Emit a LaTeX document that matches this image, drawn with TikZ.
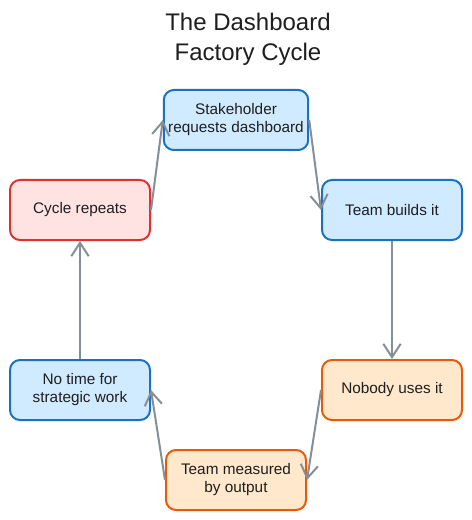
\documentclass[tikz,border=0pt]{standalone}
\usepackage{fontspec}
\setmainfont{Liberation Sans}
\usetikzlibrary{arrows.meta}

\definecolor{inkText}{HTML}{1E1E1E}
\definecolor{linkGray}{HTML}{868E96}
\definecolor{blueLine}{HTML}{1971C2}
\definecolor{blueFill}{HTML}{D0EBFF}
\definecolor{redLine}{HTML}{E03131}
\definecolor{redFill}{HTML}{FFE3E3}
\definecolor{orangeLine}{HTML}{E8590C}
\definecolor{orangeFill}{HTML}{FFE8CC}

\begin{document}
\begin{tikzpicture}[x=0.75pt,y=-0.75pt,
    stage/.style={rounded corners=7.5pt, line width=1.5pt, minimum width=105pt,
      minimum height=45pt, align=center, text=inkText,
      font=\fontsize{11.5}{13.5}\selectfont},
    bluestage/.style={stage, draw=blueLine, fill=blueFill},
    redstage/.style={stage, draw=redLine, fill=redFill},
    orangestage/.style={stage, draw=orangeLine, fill=orangeFill},
    link/.style={draw=linkGray, line width=1.5pt,
      -{Straight Barb[length=10pt,width=13pt]}}]
    \useasboundingbox (0,0) rectangle (471,520);

    % Title
    \node[text=inkText, align=center, font=\fontsize{18}{22.5}\selectfont]
      (title) at (248,39) {The Dashboard\\Factory Cycle};

    % Stages of the cycle
    \node[bluestage] (request) at (236,120) {Stakeholder\\requests dashboard};
    \node[bluestage] (build) at (392,210) {Team builds it};
    \node[orangestage] (unused) at (392,390) {Nobody uses it};
    \node[orangestage] (output) at (236,480) {Team measured\\by output};
    \node[bluestage] (notime) at (80,390) {No time for\\strategic work};
    \node[redstage] (repeat) at (80,210) {Cycle repeats};

    % Arrows round the cycle
    \draw[link] (request.east) -- (build.west);
    \draw[link] (build.south) -- (unused.north);
    \draw[link] (unused.west) -- (output.east);
    \draw[link] (output.west) -- (notime.east);
    \draw[link] (notime.north) -- (repeat.south);
    \draw[link] (repeat.east) -- (request.west);
  \end{tikzpicture}
\end{document}
